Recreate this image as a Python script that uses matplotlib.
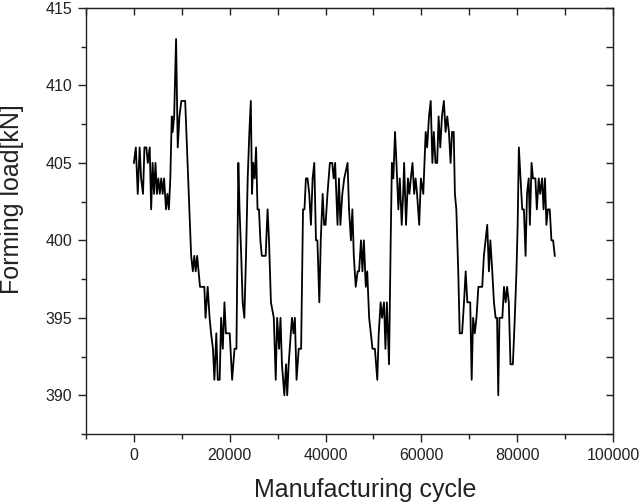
import matplotlib
matplotlib.use("Agg")
import matplotlib.pyplot as plt
from matplotlib.ticker import MultipleLocator

plt.rcParams['font.family'] = ['Liberation Sans', 'DejaVu Sans']

cycle = [0, 400, 800, 1200, 1500, 1900, 2200, 2600, 2900, 3300,
         3600, 3900, 4200, 4500, 4800, 5100, 5400, 5700, 6000, 6300,
         6700, 7000, 7300, 7600, 7900, 8100, 8400, 8800, 9150, 9500,
         9900, 10700, 11950, 12300, 12600, 12900, 13200, 13500, 13800, 14700,
         14950, 15400, 15800, 16100, 16500, 16800, 17200, 17500, 17900, 18200,
         18550, 18900, 19200, 19600, 20000, 20500, 21000, 21400, 21800, 22050,
         22400, 22700, 23050, 23400, 23750, 24100, 24400, 24650, 24900, 25200,
         25500, 25800, 26100, 26400, 26700, 27500, 27900, 28200, 28600, 29200,
         29600, 29900, 30300, 30600, 30900, 31400, 31750, 32000, 32300, 32750,
         33000, 33300, 33600, 33950, 34400, 34900, 35300, 35600, 35900, 36250,
         36600, 36950, 37300, 37650, 38000, 38300, 38700, 39000, 39400, 39700,
         40000, 40400, 40900, 41400, 41700, 42000, 42500, 42800, 43100, 43500,
         43900, 44600, 44900, 45300, 45600, 45900, 46300, 46700, 47000, 47400,
         47700, 48000, 48400, 48700, 49100, 49800, 50300, 50800, 51100, 51500,
         51800, 52200, 52500, 52800, 53250, 53600, 53850, 54150, 54500, 54800,
         55200, 55500, 55900, 56200, 56400, 56800, 57200, 57500, 57800, 58150,
         58500, 58800, 59100, 59550, 59900, 60400, 60900, 61200, 61600, 61950,
         62300, 62600, 62950, 63300, 63600, 63950, 64300, 64700, 65050, 65400,
         65750, 66100, 66400, 66750, 67000, 67300, 67700, 68000, 68500, 68900,
         69250, 69600, 70200, 70500, 70800, 71150, 71500, 71900, 72700, 73050,
         73400, 73750, 74100, 74400, 74800, 75150, 75500, 75800, 76050, 76300,
         76900, 77250, 77600, 77900, 78250, 78600, 79100, 79500, 79850, 80100,
         80350, 80700, 81050, 81400, 81750, 82050, 82400, 82650, 83000, 83300,
         83800, 84100, 84500, 84800, 85200, 85500, 85800, 86100, 86400, 86800,
         87150, 87500, 87850]

load = [405, 406, 403, 406, 404, 403, 406, 406, 405, 406,
        402, 405, 403, 405, 403, 404, 403, 404, 403, 404,
        402, 403, 402, 404, 408, 407, 408, 413, 406, 408,
        409, 409, 399, 398, 399, 398, 399, 398, 397, 397,
        395, 397, 395, 394, 393, 391, 394, 391, 391, 395,
        393, 396, 394, 394, 394, 391, 393, 393, 405, 402,
        399, 396, 395, 399, 404, 407, 409, 403, 405, 404,
        406, 402, 402, 400, 399, 399, 402, 400, 396, 395,
        391, 395, 393, 395, 392, 390, 392, 390, 392, 394,
        395, 394, 395, 391, 393, 393, 402, 402, 404, 404,
        403, 401, 404, 405, 400, 400, 396, 400, 403, 401,
        401, 403, 405, 405, 404, 405, 401, 404, 401, 403,
        404, 405, 402, 400, 402, 399, 397, 398, 398, 400,
        398, 400, 397, 398, 395, 393, 393, 391, 394, 396,
        395, 396, 393, 396, 392, 400, 405, 404, 407, 405,
        402, 404, 401, 403, 405, 401, 404, 403, 404, 405,
        403, 404, 403, 401, 404, 403, 407, 406, 408, 409,
        405, 407, 405, 405, 408, 406, 408, 409, 407, 408,
        407, 405, 407, 407, 403, 402, 398, 394, 394, 396,
        398, 396, 396, 391, 395, 394, 395, 397, 397, 399,
        400, 401, 398, 400, 398, 396, 395, 395, 390, 395,
        395, 397, 396, 397, 396, 392, 392, 395, 398, 401,
        406, 404, 402, 402, 399, 403, 404, 401, 405, 404,
        404, 402, 404, 403, 404, 402, 404, 401, 402, 402,
        400, 400, 399]

fig = plt.figure(figsize=(6.44, 5.03), dpi=100)
ax = fig.add_axes([86/644, 1-434/503, (613-86)/644, (434-8)/503])
ax.plot(cycle, load, color='black', lw=1.3)

ax.set_xlim(-10000, 100000)
ax.set_ylim(387.5, 415)
ax.xaxis.set_major_locator(MultipleLocator(20000))
ax.xaxis.set_minor_locator(MultipleLocator(10000))
ax.yaxis.set_major_locator(MultipleLocator(5))
ax.yaxis.set_minor_locator(MultipleLocator(2.5))
ax.tick_params(which='major', direction='out', length=6, width=1, labelsize=11.5,
               colors='#222222', pad=4)
ax.tick_params(which='minor', direction='out', length=3.5, width=1, colors='#222222')
for s in ax.spines.values():
    s.set_linewidth(1.0)
    s.set_color('#222222')

top = ax.secondary_xaxis('top')
top.xaxis.set_major_locator(MultipleLocator(20000))
top.xaxis.set_minor_locator(MultipleLocator(10000))
top.tick_params(which='both', direction='in', labeltop=False, length=5, width=1, colors='#222222')
right = ax.secondary_yaxis('right')
right.yaxis.set_major_locator(MultipleLocator(5))
right.yaxis.set_minor_locator(MultipleLocator(2.5))
right.tick_params(which='both', direction='in', labelright=False, length=5, width=1, colors='#222222')

ax.set_xlabel('Manufacturing cycle', fontsize=18, color='#222222')
ax.set_ylabel('Forming load[kN]', fontsize=18, color='#222222')
ax.xaxis.set_label_coords(0.529, -0.103)
ax.yaxis.set_label_coords(-0.117, 0.552)

fig.savefig('out.png', dpi=100)
